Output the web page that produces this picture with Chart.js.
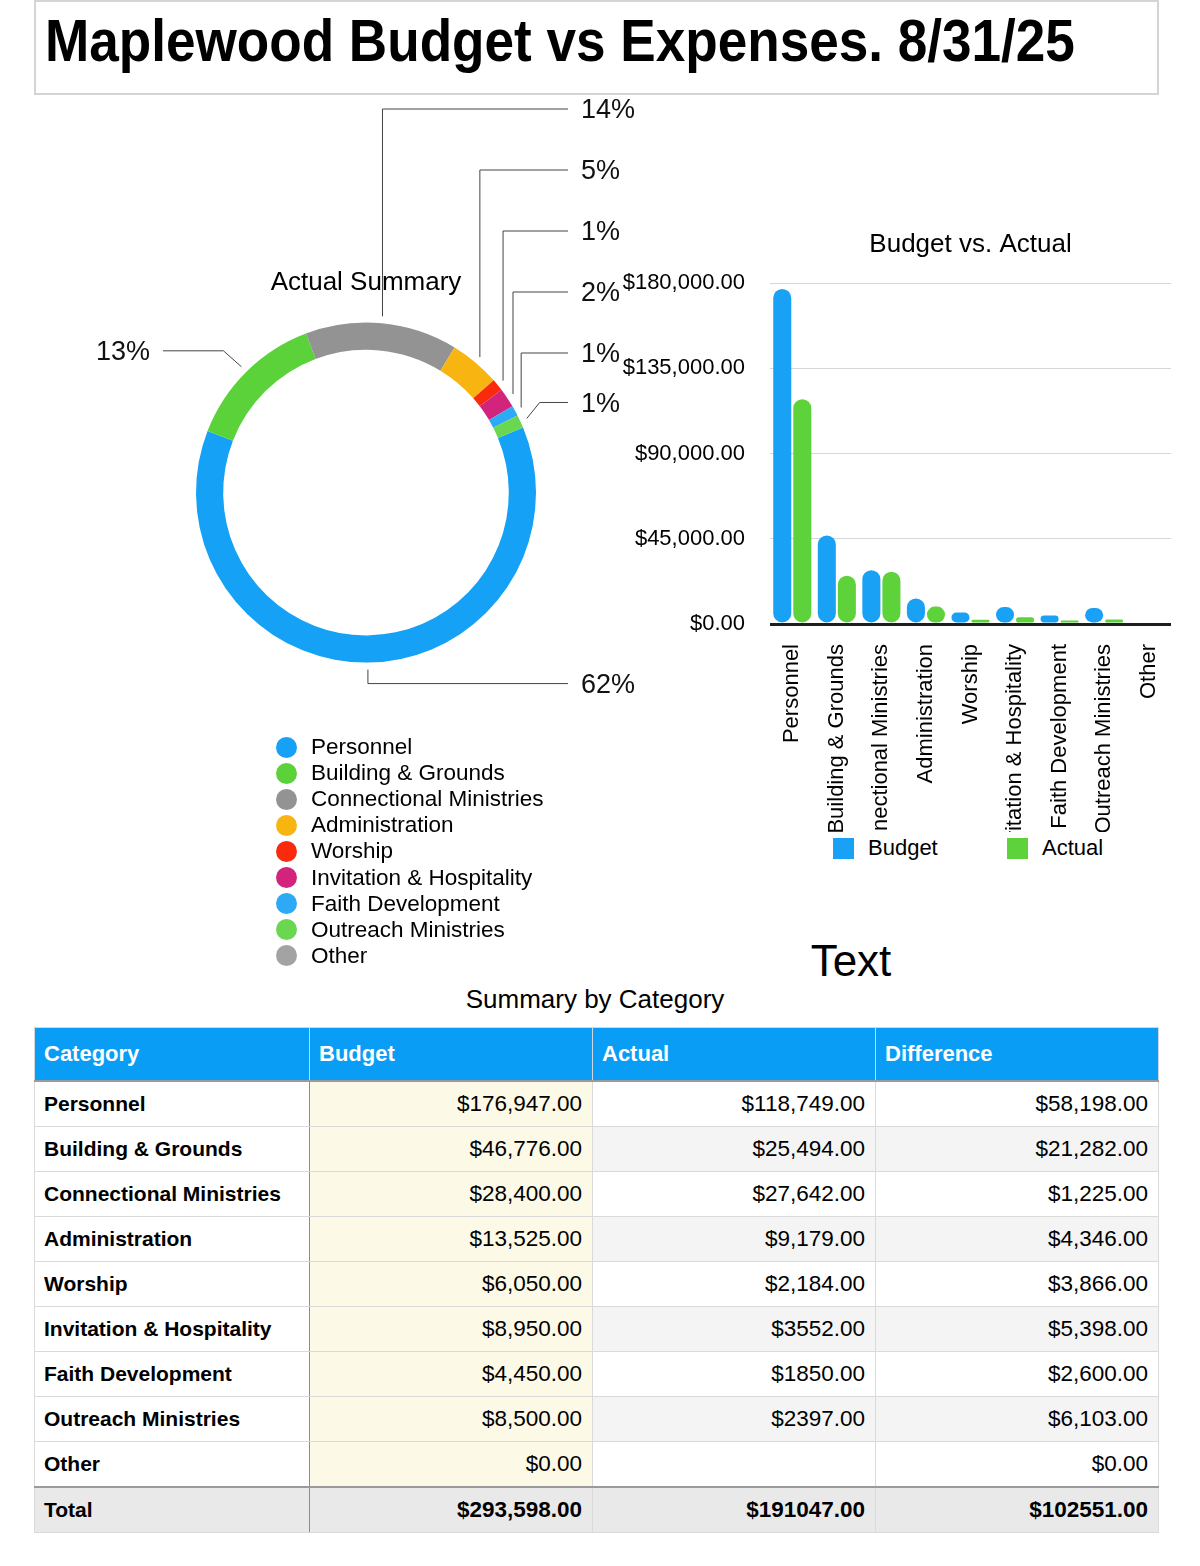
<!DOCTYPE html>
<html>
<head>
<meta charset="utf-8">
<title>Maplewood Budget vs Expenses</title>
<script src="https://cdn.jsdelivr.net/npm/chart.js@4.4.1/dist/chart.umd.min.js"></script>
<style>
  body { margin: 0; background: #fff; font-family: "Liberation Sans", Arial, sans-serif; color: #000; }
  #page { position: relative; width: 1200px; height: 1566px; overflow: hidden; }
  .abs { position: absolute; }
  #titleBox { left: 34px; top: 0; width: 1121px; height: 91px; border: 2px solid #d4d4d4; }
  #title { left: 45px; top: 12px; font-size: 59px; line-height: 59px; font-weight: bold; white-space: nowrap; transform: scaleX(0.9); transform-origin: 0 0; }
  #donutCanvas { left: 0; top: 95px; }
  #barCanvas { left: 600px; top: 220px; }
  #donutLegend { left: 276px; top: 734px; }
  .lg-row { height: 26.1px; display: flex; align-items: center; font-size: 22.5px; white-space: nowrap; }
  .lg-dot { width: 21px; height: 21px; border-radius: 50%; margin-right: 14px; flex: none; }
  .bar-lg { top: 835px; display: flex; align-items: center; font-size: 22px; }
  .bar-lg span.box { width: 21px; height: 21px; margin-right: 14px; }
  #textLabel { left: 760px; width: 182px; top: 935px; text-align: center; font-size: 44px; line-height: 52px; }
  #tableTitle { left: 395px; width: 400px; top: 983px; text-align: center; font-size: 26px; line-height: 32px; }
  #summary { left: 34px; top: 1027px; width: 1124px; border-collapse: collapse; table-layout: fixed; font-size: 22.5px; }
  #summary th { background: #0a9df6; color: #fff; font-weight: bold; font-size: 22px; text-align: left; height: 52px; padding: 0 9px; border: 1px solid #cfd8e0; border-bottom: 2px solid #9a9a9a; }
  #summary td { height: 44px; padding: 0 10px; border: 1px solid #dadada; text-align: right; }
  #summary td.cat { text-align: left; font-weight: bold; font-size: 21px; padding-left: 9px; border-right: 1px solid #8c8c8c; }
  #summary td.bud { background: #fdf9e7; }
  #summary tr.alt td.val { background: #f4f4f4; }
  #summary tr.total td { background: #e9e9e9; font-weight: bold; border-top: 2px solid #9a9a9a; height: 44px; }
</style>
</head>
<body>
<div id="page">
  <div id="titleBox" class="abs"></div>
  <div id="title" class="abs">Maplewood Budget vs Expenses. 8/31/25</div>
  <canvas id="donutCanvas" class="abs" width="760" height="640"></canvas>
  <canvas id="barCanvas" class="abs" width="600" height="612"></canvas>
  <div id="donutLegend" class="abs"></div>
  <div class="abs bar-lg" style="left:833px"><span class="box" style="background:#18a1f5"></span>Budget</div>
  <div class="abs bar-lg" style="left:1007px"><span class="box" style="background:#5dd23b"></span>Actual</div>
  <div id="textLabel" class="abs">Text</div>
  <div id="tableTitle" class="abs">Summary by Category</div>
  <table id="summary" class="abs">
    <colgroup><col style="width:275px"><col style="width:283px"><col style="width:283px"><col style="width:283px"></colgroup>
    <thead><tr><th>Category</th><th>Budget</th><th>Actual</th><th>Difference</th></tr></thead>
    <tbody id="summaryBody"></tbody>
  </table>
</div>
<script>
// Categories and values
const categories = ['Personnel', 'Building & Grounds', 'Connectional Ministries', 'Administration', 'Worship',
  'Invitation & Hospitality', 'Faith Development', 'Outreach Ministries', 'Other'];
const budgetValues = [176947, 46776, 28400, 13525, 6050, 8950, 4450, 8500, 0];
const actualValues = [118749, 25494, 27642, 9179, 2184, 3552, 1850, 2397, 0];
const budgetTicks = [0, 45000, 90000, 135000, 180000];

// Table text exactly as printed in the sheet
const budgetText = ['$176,947.00', '$46,776.00', '$28,400.00', '$13,525.00', '$6,050.00', '$8,950.00', '$4,450.00', '$8,500.00', '$0.00'];
const actualText = ['$118,749.00', '$25,494.00', '$27,642.00', '$9,179.00', '$2,184.00', '$3552.00', '$1850.00', '$2397.00', ''];
const differenceText = ['$58,198.00', '$21,282.00', '$1,225.00', '$4,346.00', '$3,866.00', '$5,398.00', '$2,600.00', '$6,103.00', '$0.00'];
const totalText = ['Total', '$293,598.00', '$191047.00', '$102551.00'];

const sliceColors = ['#15a1f6', '#5cd23a', '#939393', '#f8b512', '#fa2b0d', '#d3247d', '#2caaf5', '#6bd750', '#a3a3a3'];

Chart.defaults.font.family = '"Liberation Sans", Arial, sans-serif';
Chart.defaults.color = '#000';

// Percent labels with elbow leader lines, like the spreadsheet app draws them
const leaderLabels = {
  id: 'leaderLabels',
  afterDatasetsDraw(chart) {
    const ctx = chart.ctx;
    const meta = chart.getDatasetMeta(0);
    const total = actualValues.reduce((s, v) => s + v, 0);
    ctx.save();
    ctx.strokeStyle = '#444';
    ctx.lineWidth = 1;
    ctx.fillStyle = '#111';
    ctx.font = '27px "Liberation Sans", Arial, sans-serif';
    ctx.textBaseline = 'middle';
    let k = 0;
    meta.data.forEach((arc, i) => {
      const v = actualValues[i];
      if (!v) return;
      const pct = Math.round(v / total * 100) + '%';
      const mid = (arc.startAngle + arc.endAngle) / 2;
      const r = arc.outerRadius + 7;
      const ax = arc.x + Math.cos(mid) * r;
      const ay = arc.y + Math.sin(mid) * r;
      let ly;
      ctx.beginPath();
      ctx.moveTo(ax, ay);
      if (Math.cos(mid) < -0.2) {
        // left side
        ly = ay - 16;
        ctx.lineTo(ax - 18, ly);
        ctx.lineTo(163, ly);
        ctx.stroke();
        ctx.textAlign = 'right';
        ctx.fillText(pct, 150, ly + 2);
        return;
      }
      if (Math.sin(mid) > 0.5) {
        // bottom
        ly = ay + 14;
        ctx.lineTo(ax, ly);
      } else {
        // stacked column on the right
        ly = Math.min(14 + k * 61, ay - 16);
        k++;
        if (ay - ly < 25) ctx.lineTo(ax + 13, ly);
        else ctx.lineTo(ax, ly);
      }
      ctx.lineTo(568, ly);
      ctx.stroke();
      ctx.textAlign = 'left';
      ctx.fillText(pct, 581, ly + 2);
    });
    ctx.restore();
  }
};

const donut = new Chart(document.getElementById('donutCanvas'), {
  type: 'doughnut',
  data: {
    labels: categories,
    datasets: [{
      data: actualValues,
      backgroundColor: sliceColors,
      borderWidth: 0
    }]
  },
  options: {
    responsive: false,
    animation: false,
    rotation: 67.5,
    cutout: '84%',
    layout: { padding: { left: 196, right: 224, top: 172, bottom: 72 } },
    plugins: {
      legend: { display: false },
      tooltip: { enabled: false },
      title: {
        display: true,
        text: 'Actual Summary',
        color: '#000',
        font: { size: 26, weight: 'normal' },
        padding: { top: 0, bottom: 24 }
      }
    }
  },
  plugins: [leaderLabels]
});

// HTML legend for the doughnut
const legendBox = document.getElementById('donutLegend');
donut.data.labels.forEach((name, i) => {
  const row = document.createElement('div');
  row.className = 'lg-row';
  const dot = document.createElement('span');
  dot.className = 'lg-dot';
  dot.style.background = donut.data.datasets[0].backgroundColor[i];
  row.appendChild(dot);
  row.appendChild(document.createTextNode(name));
  legendBox.appendChild(row);
});

const money = v => '$' + v.toLocaleString('en-US', { minimumFractionDigits: 2, maximumFractionDigits: 2 });

new Chart(document.getElementById('barCanvas'), {
  type: 'bar',
  data: {
    labels: categories,
    datasets: [
      { label: 'Budget', data: budgetValues, backgroundColor: '#18a1f5' },
      { label: 'Actual', data: actualValues, backgroundColor: '#5dd23b' }
    ]
  },
  options: {
    responsive: false,
    animation: false,
    categoryPercentage: 0.9,
    barPercentage: 0.9,
    borderRadius: 10,
    borderSkipped: false,
    layout: { padding: { left: 0, right: 29, top: 9, bottom: 0 } },
    plugins: {
      legend: { display: false },
      tooltip: { enabled: false },
      title: {
        display: true,
        fullSize: false,
        text: 'Budget vs. Actual',
        color: '#000',
        font: { size: 26, weight: 'normal' },
        padding: { top: 0, bottom: 23 }
      }
    },
    scales: {
      x: {
        grid: { display: false },
        border: { display: false },
        ticks: { autoSkip: false, minRotation: 90, maxRotation: 90, padding: 12, font: { size: 22 }, color: '#000' },
        afterFit(scale) { scale.height = 208; }
      },
      y: {
        min: 0,
        max: 180000,
        border: { display: false },
        grid: {
          drawTicks: false,
          color: ctx => ctx.tick && ctx.tick.value === 0 ? '#1e1e1e' : '#d6d6d6',
          lineWidth: ctx => ctx.tick && ctx.tick.value === 0 ? 3 : 1
        },
        ticks: { padding: 25, font: { size: 22 }, color: '#000', callback: v => money(v) },
        afterBuildTicks(scale) { scale.ticks = budgetTicks.map(v => ({ value: v })); },
        afterFit(scale) { scale.width = 170; }
      }
    }
  }
});

// Summary table
const body = document.getElementById('summaryBody');
categories.forEach((name, i) => {
  const tr = document.createElement('tr');
  if (i % 2 === 1) tr.className = 'alt';
  tr.innerHTML = '<td class="cat"></td><td class="bud"></td><td class="val"></td><td class="val"></td>';
  tr.children[0].textContent = name;
  tr.children[1].textContent = budgetText[i];
  tr.children[2].textContent = actualText[i];
  tr.children[3].textContent = differenceText[i];
  body.appendChild(tr);
});
const totalRow = document.createElement('tr');
totalRow.className = 'total';
totalText.forEach((t, j) => {
  const td = document.createElement('td');
  if (j === 0) td.className = 'cat';
  td.textContent = t;
  totalRow.appendChild(td);
});
body.appendChild(totalRow);
</script>
</body>
</html>
